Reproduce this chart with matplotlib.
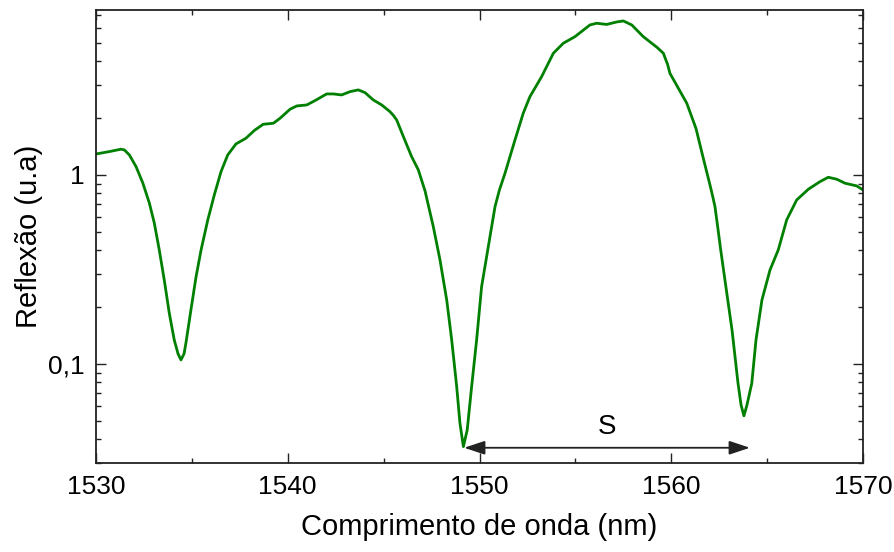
import matplotlib
matplotlib.use("Agg")
import matplotlib.pyplot as plt
from matplotlib.ticker import FixedLocator, LogLocator, MultipleLocator, NullFormatter

plt.rcParams['font.family'] = ['Liberation Sans', 'DejaVu Sans']

wavelength = [1530.00, 1530.68, 1531.30, 1531.48, 1531.74, 1532.09, 1532.44, 1532.78, 1533.04, 1533.30,
              1533.56, 1533.82, 1534.08, 1534.28, 1534.43, 1534.59, 1534.69, 1534.95, 1535.22, 1535.48,
              1535.83, 1536.17, 1536.52, 1536.87, 1537.30, 1537.82, 1538.26, 1538.72, 1539.25, 1539.60,
              1540.12, 1540.47, 1540.99, 1541.42, 1542.03, 1542.38, 1542.81, 1543.25, 1543.68, 1544.03,
              1544.46, 1544.90, 1545.33, 1545.51, 1545.68, 1546.03, 1546.46, 1546.81, 1547.16, 1547.59,
              1547.94, 1548.29, 1548.55, 1548.81, 1548.98, 1549.16, 1549.36, 1549.59, 1549.85, 1550.11,
              1550.46, 1550.81, 1551.04, 1551.33, 1551.85, 1552.28, 1552.63, 1553.24, 1553.85, 1554.37,
              1554.98, 1555.76, 1556.11, 1556.63, 1557.16, 1557.50, 1557.94, 1558.54, 1559.26, 1559.59,
              1559.68, 1559.81, 1559.93, 1560.81, 1561.29, 1561.67, 1562.02, 1562.15, 1562.28, 1562.43,
              1562.58, 1562.80, 1563.17, 1563.48, 1563.64, 1563.79, 1563.95, 1564.20, 1564.42, 1564.73,
              1565.15, 1565.58, 1566.02, 1566.54, 1567.15, 1567.76, 1568.19, 1568.63, 1569.06, 1569.67,
              1570.00]

reflection = [1.291, 1.328, 1.368, 1.356, 1.276, 1.106, 0.907, 0.711, 0.557, 0.401,
              0.278, 0.186, 0.134, 0.113, 0.105, 0.113, 0.129, 0.193, 0.290, 0.401,
              0.578, 0.784, 1.041, 1.276, 1.459, 1.564, 1.720, 1.854, 1.877, 1.995,
              2.227, 2.318, 2.346, 2.473, 2.683, 2.683, 2.650, 2.759, 2.818, 2.726,
              2.494, 2.346, 2.162, 2.064, 1.954, 1.595, 1.250, 1.063, 0.823, 0.533,
              0.355, 0.218, 0.134, 0.0759, 0.0486, 0.0365, 0.0448, 0.0759, 0.134, 0.2565,
              0.418, 0.680, 0.833, 1.021, 1.531, 2.120, 2.596, 3.312, 4.403, 4.975,
              5.393, 6.219, 6.348, 6.256, 6.450, 6.529, 6.219, 5.393, 4.729, 4.403,
              4.159, 3.843, 3.452, 2.395, 1.762, 1.226, 0.885, 0.779, 0.680, 0.524,
              0.401, 0.278, 0.151, 0.0793, 0.0607, 0.0531, 0.0607, 0.0790, 0.134, 0.218,
              0.314, 0.401, 0.578, 0.737, 0.840, 0.922, 0.972, 0.949, 0.904, 0.875,
              0.833]

x_ticks = [1530, 1540, 1550, 1560, 1570]
x_tick_labels = ['1530', '1540', '1550', '1560', '1570']
y_ticks = [0.1, 1]
y_tick_labels = ['0,1', '1']

arrow_start = 1549.2
arrow_end = 1564.1
arrow_level = 0.036
s_label = 'S'
s_pos = (1556.65, 0.0464)

fig = plt.figure(figsize=(8.95, 5.52), dpi=100)
ax = fig.add_axes([96 / 895, 1 - 463 / 552, (863 - 96) / 895, (463 - 10) / 552])

ax.plot(wavelength, reflection, color='#008000', lw=2.0, solid_joinstyle='round', solid_capstyle='round')

ax.set_yscale('log')
ax.set_xlim(1530, 1570)
ax.set_ylim(0.0299, 7.46)

ax.xaxis.set_major_locator(FixedLocator(x_ticks))
ax.set_xticklabels(x_tick_labels)
ax.xaxis.set_minor_locator(MultipleLocator(5))
ax.yaxis.set_major_locator(FixedLocator(y_ticks))
ax.set_yticklabels(y_tick_labels)
ax.yaxis.set_minor_locator(LogLocator(base=10, subs=[2, 3, 4, 5, 6, 7, 8, 9]))
ax.yaxis.set_minor_formatter(NullFormatter())

ax.tick_params(which='both', direction='in', top=True, right=True, labelsize=19, width=1.0, color='#222222')
ax.tick_params(which='major', length=7)
ax.tick_params(which='minor', length=3.5)
ax.tick_params(axis='x', which='major', pad=9)
ax.tick_params(axis='y', which='major', pad=8)
for sp in ax.spines.values():
    sp.set_linewidth(1.3)
    sp.set_color('#222222')

ax.set_xlabel('Comprimento de onda (nm)', fontsize=21, labelpad=10)
ax.set_ylabel('Reflexão (u.a)', fontsize=21, labelpad=4)

ax.annotate('', xy=(arrow_start, arrow_level), xytext=(arrow_end, arrow_level),
            arrowprops=dict(arrowstyle='<|-|>,head_length=0.9,head_width=0.3', color='#222222',
                            lw=1.3, shrinkA=0, shrinkB=0, mutation_scale=14))
ax.text(s_pos[0], s_pos[1], s_label, fontsize=20, ha='center', va='center')

fig.savefig('out.png', dpi=100)
